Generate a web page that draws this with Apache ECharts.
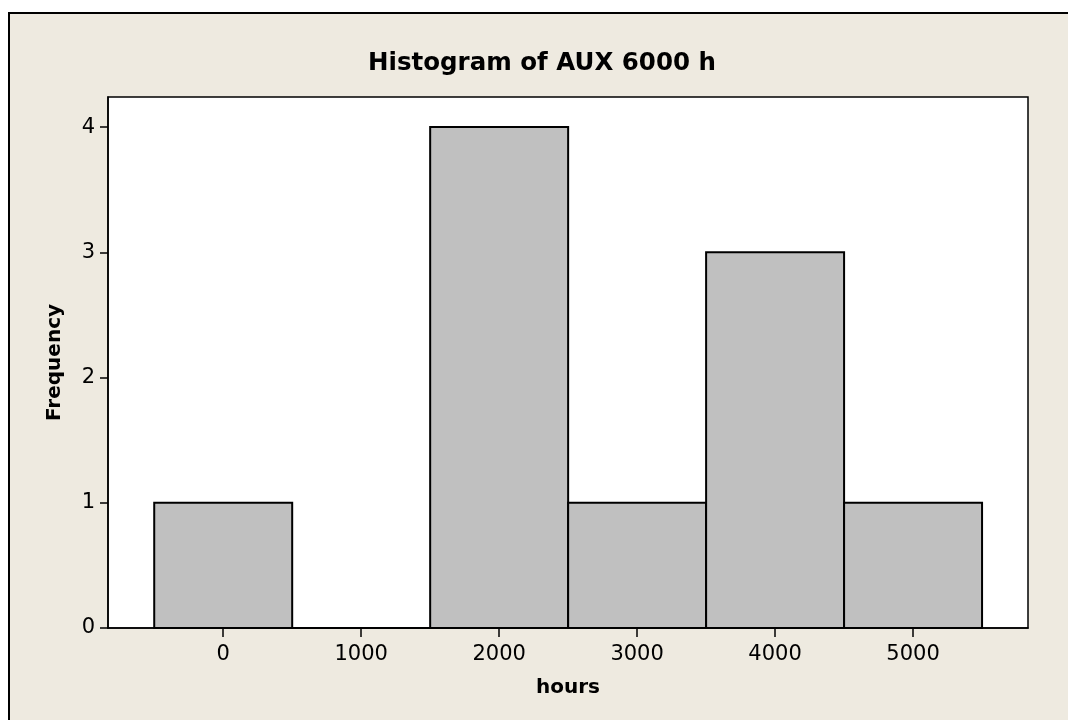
<!DOCTYPE html>
<html>
<head>
<meta charset="utf-8">
<script src="https://cdn.jsdelivr.net/npm/echarts@6/dist/echarts.min.js"></script>
<style>
  html, body { margin: 0; padding: 0; background: #ffffff; }
  #chart { width: 1068px; height: 720px; }
</style>
</head>
<body>
<div id="chart"></div>
<script>
// histogram bins (hours) and counts
const binStart = [-500, 500, 1500, 2500, 3500, 4500];
const binEnd = [500, 1500, 2500, 3500, 4500, 5500];
const counts = [1, 0, 4, 1, 3, 1];
const xTicks = [0, 1000, 2000, 3000, 4000, 5000];
const yTicks = [0, 1, 2, 3, 4];

const chart = echarts.init(document.getElementById('chart'));

const data = binStart.map((s, i) => [s, binEnd[i], counts[i]]);

const option = {
  animation: false,
  textStyle: { fontFamily: 'DejaVu Sans' },
  graphic: [
    {
      type: 'rect',
      shape: { x: 9, y: 13, width: 1100, height: 760 },
      style: { fill: '#EEEAE0', stroke: '#000', lineWidth: 2 },
      z: -10
    },
    {
      type: 'text',
      x: 542, y: 64,
      style: {
        text: 'Histogram of AUX 6000 h',
        fontFamily: 'DejaVu Sans',
        fontWeight: 'bold',
        fontSize: 24.5,
        fill: '#000',
        align: 'center',
        verticalAlign: 'middle'
      }
    }
  ],
  grid: {
    left: 108, right: 40, top: 97, bottom: 92,
    show: true,
    backgroundColor: '#ffffff',
    borderColor: '#000',
    borderWidth: 1.5
  },
  xAxis: {
    type: 'value',
    min: -835,
    max: 5833,
    name: 'hours',
    nameLocation: 'middle',
    nameGap: 50,
    nameTextStyle: { color: '#000', fontWeight: 'bold', fontSize: 20, fontFamily: 'DejaVu Sans' },
    axisLine: { show: true, onZero: false, lineStyle: { color: '#000', width: 1.5 } },
    splitLine: { show: false },
    axisTick: { show: true, inside: false, length: 9, lineStyle: { color: '#000', width: 1.5 }, customValues: xTicks },
    axisLabel: { color: '#000', fontSize: 21, margin: 16, customValues: xTicks, formatter: v => String(v) }
  },
  yAxis: {
    type: 'value',
    min: 0,
    max: 4.24,
    name: 'Frequency',
    nameLocation: 'middle',
    nameGap: 43,
    nameTextStyle: { color: '#000', fontWeight: 'bold', fontSize: 20, fontFamily: 'DejaVu Sans' },
    axisLine: { show: true, onZero: false, lineStyle: { color: '#000', width: 1.5 } },
    splitLine: { show: false },
    axisTick: { show: true, inside: false, length: 8, lineStyle: { color: '#000', width: 1.5 }, customValues: yTicks },
    axisLabel: { color: '#000', fontSize: 21, margin: 13, customValues: yTicks }
  },
  series: [{
    type: 'custom',
    data: data,
    encode: { x: [0, 1], y: 2 },
    renderItem: (params, api) => {
      const p0 = api.coord([api.value(0), api.value(2)]);
      const p1 = api.coord([api.value(1), 0]);
      return {
        type: 'rect',
        shape: { x: p0[0], y: p0[1], width: p1[0] - p0[0], height: p1[1] - p0[1] },
        style: { fill: '#C0C0C0', stroke: '#000', lineWidth: 2 }
      };
    }
  }]
};

chart.setOption(option);
</script>
</body>
</html>
